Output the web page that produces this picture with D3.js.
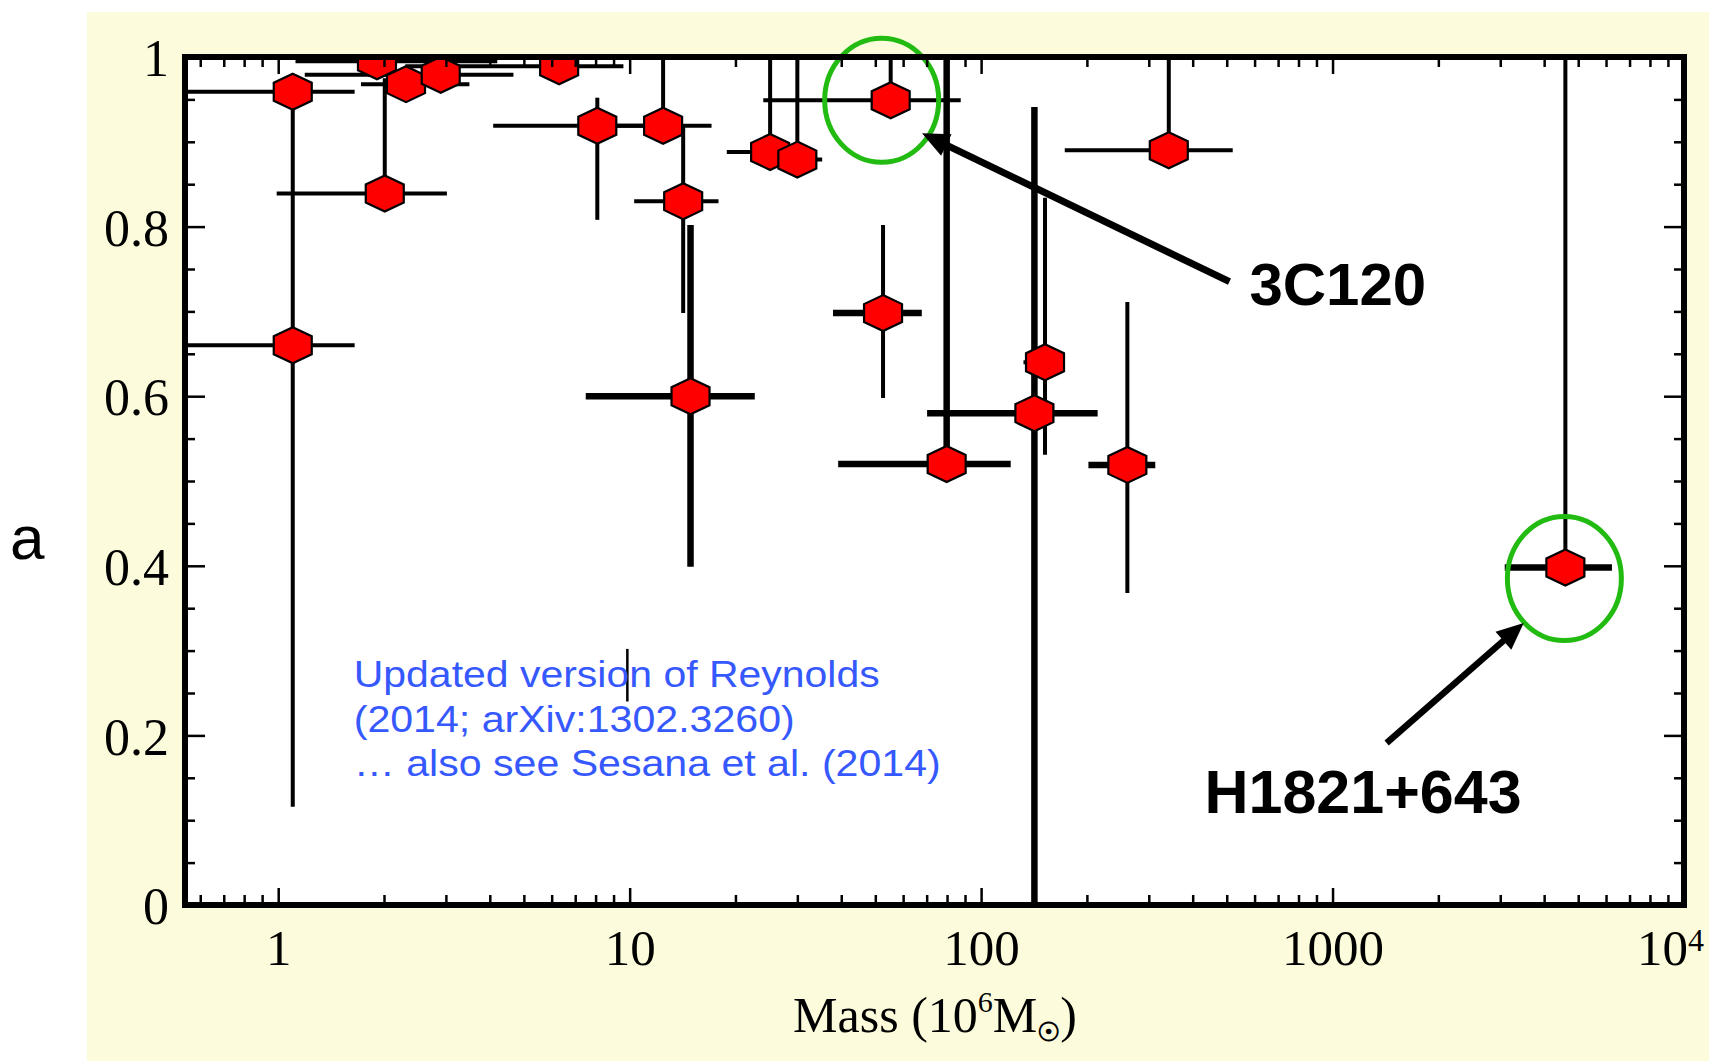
<!DOCTYPE html>
<html>
<head>
<meta charset="UTF-8">
<title></title>
<style>
    body { margin: 0; background: #fff; }
    svg { display: block; }
</style>
<script src="https://cdn.jsdelivr.net/npm/d3@7"></script>
</head>
<body>
<svg id="chart" width="1709" height="1061"></svg>
<script>
    // black hole mass (10^6 Msun) and value for each source, with error ranges
    var mass   = [1.10, 1.10, 1.91, 2.31, 2.90, 6.30, 2.01, 8.09, 12.45, 14.2, 14.9, 25.1, 30.0, 55.3, 52.6, 79.8, 141.8, 152, 260.7, 342, 4597];
    var frac   = [0.959, 0.660, 0.995, 0.968, 0.979, 0.989, 0.839, 0.919, 0.919, 0.830, 0.600, 0.888, 0.879, 0.949, 0.698, 0.520, 0.580, 0.640, 0.519, 0.890, 0.398];
    var massLo = [0.40, 0.40, 1.12, 1.72, 1.19, 2.30, 0.99, 4.09, 8.0, 10.3, 7.5, 18.9, 27.0, 24.0, 37.9, 39.2, 70.2, 132, 202, 173, 3090];
    var massHi = [1.65, 1.65, 4.20, 3.50, 4.67, 9.60, 3.02, 12.0, 17.1, 17.9, 22.7, 30.0, 35.3, 87.5, 67.8, 121.4, 214.6, 160, 313, 520, 6237];
    var fracLo = [0.959, 0.116, 0.995, 0.968, 0.979, 0.989, 0.839, 0.808, 0.919, 0.698, 0.399, 0.888, 0.879, 0.949, 0.598, 0.520, 0.0, 0.531, 0.368, 0.890, 0.398];
    var fracHi = [0.959, 0.959, 1.0, 0.968, 1.0, 1.0, 0.975, 0.952, 1.0, 0.919, 0.802, 1.0, 1.0, 1.0, 0.802, 1.0, 0.941, 0.834, 0.711, 1.0, 1.0];

    // a lone error bar with no marker
    var strayMass = 9.85;
    var strayRange = [0.240, 0.302];

    var massDomain = [0.543, 10000];
    var massTicks = [1, 10, 100, 1000, 10000];
    var massTickLabels = ["1", "10", "100", "1000", "10"];
    var fracTicks = [0, 0.2, 0.4, 0.6, 0.8, 1];
    var fracTickLabels = ["0", "0.2", "0.4", "0.6", "0.8", "1"];

    // highlighted sources, label and arrow positions in data units
    var calloutIndex = [13, 20];
    var calloutNames = ["3C120", "H1821+643"];
    var calloutTextAt = [[580, 0.7075], [432, 0.1085]];
    var arrowTail = [[509, 0.735], [1425, 0.191]];
    var arrowTip = [[67.9, 0.910], [3499, 0.3325]];

    var noteLines = ["Updated version of Reynolds", "(2014; arXiv:1302.3260)", "\u2026 also see Sesana et al. (2014)"];
    var noteAt = [1.64, 0.257];

    // ---- styles
    var W = 1709, H = 1061;
    var plot = {left: 185, right: 1684, top: 57, bottom: 905};
    var serif = "'Liberation Serif', 'Times New Roman', serif";
    var sans = "'Liberation Sans', Arial, sans-serif";
    var thinBar = 4, thickBar = 6.5;
    var thickH = [10, 14, 15, 16, 18, 20];
    var thickV = [10, 15, 16];
    var hexPath = "M0,-18L19,-9L19,9L0,18L-19,9L-19,-9Z";
    var ellipseShift = [[-9, 0], [-1, 11]];
    var noteWidths = [526, 441, 587];

    var svg = d3.select("#chart");

    svg.append("defs").append("clipPath").attr("id", "plotClip")
        .append("rect")
        .attr("x", plot.left).attr("y", plot.top)
        .attr("width", plot.right - plot.left).attr("height", plot.bottom - plot.top);

    svg.append("rect")
        .attr("x", 87).attr("y", 12)
        .attr("width", W - 87).attr("height", H - 12)
        .attr("fill", "#fcfcdc");

    svg.append("rect")
        .attr("x", plot.left).attr("y", plot.top)
        .attr("width", plot.right - plot.left).attr("height", plot.bottom - plot.top)
        .attr("fill", "#fff");

    var x = d3.scaleLog().domain(massDomain).range([plot.left, plot.right]);
    var y = d3.scaleLinear().domain([0, 1]).range([plot.bottom, plot.top]);

    var minorMass = [];
    [0.1, 1, 10, 100, 1000].forEach(function (dec) {
        for (var k = 2; k <= 9; k++) {
            var v = k * dec;
            if (v >= massDomain[0] && v < massDomain[1]) minorMass.push(v);
        }
    });
    var minorFrac = d3.range(0, 21).map(function (k) { return k * 0.05; })
        .filter(function (v) { return Math.abs(v * 5 - Math.round(v * 5)) > 1e-6; });

    function drawAxis(axis, transform) {
        var g = svg.append("g").attr("transform", transform).call(axis);
        g.select(".domain").remove();
        g.selectAll(".tick line").attr("stroke", "#000").attr("stroke-width", 2.5);
        g.attr("font-family", serif).attr("font-size", 51);
        g.selectAll(".tick text").attr("fill", "#000");
        return g;
    }

    var byLabel = function (ticks, labels) {
        return function (d) { return labels[ticks.indexOf(d)]; };
    };

    // ---- error bars
    var idx = d3.range(mass.length);
    var bars = svg.append("g").attr("clip-path", "url(#plotClip)").attr("stroke", "#000");

    bars.selectAll("line.h")
        .data(idx.filter(function (i) { return massHi[i] > massLo[i]; }))
        .join("line").attr("class", "h")
        .attr("x1", function (i) { return x(massLo[i]); })
        .attr("x2", function (i) { return x(massHi[i]); })
        .attr("y1", function (i) { return y(frac[i]); })
        .attr("y2", function (i) { return y(frac[i]); })
        .attr("stroke-width", function (i) { return thickH.indexOf(i) >= 0 ? thickBar : thinBar; });

    bars.selectAll("line.v")
        .data(idx.filter(function (i) { return fracHi[i] > fracLo[i]; }))
        .join("line").attr("class", "v")
        .attr("x1", function (i) { return x(mass[i]); })
        .attr("x2", function (i) { return x(mass[i]); })
        .attr("y1", function (i) { return y(fracLo[i]); })
        .attr("y2", function (i) { return y(fracHi[i]); })
        .attr("stroke-width", function (i) { return thickV.indexOf(i) >= 0 ? thickBar : thinBar; });

    bars.append("line")
        .attr("x1", x(strayMass)).attr("x2", x(strayMass))
        .attr("y1", y(strayRange[0])).attr("y2", y(strayRange[1]))
        .attr("stroke-width", 2.5);

    // ---- markers
    svg.append("g").attr("clip-path", "url(#plotClip)")
        .selectAll("path")
        .data(idx)
        .join("path")
        .attr("d", hexPath)
        .attr("transform", function (i) { return "translate(" + x(mass[i]) + "," + y(frac[i]) + ")"; })
        .attr("fill", "#ff0000")
        .attr("stroke", "#000")
        .attr("stroke-width", 2.2);

    // ---- note
    var note = svg.append("text")
        .attr("font-family", sans).attr("font-size", 36).attr("fill", "#3558ff");
    noteLines.forEach(function (t, k) {
        note.append("tspan")
            .attr("x", x(noteAt[0]))
            .attr("y", y(noteAt[1]) + k * 44.5)
            .attr("textLength", noteWidths[k])
            .attr("lengthAdjust", "spacingAndGlyphs")
            .text(t);
    });

    // ---- callouts
    calloutIndex.forEach(function (i, k) {
        svg.append("ellipse")
            .attr("cx", x(mass[i]) + ellipseShift[k][0])
            .attr("cy", y(frac[i]) + ellipseShift[k][1])
            .attr("rx", 57).attr("ry", 62)
            .attr("fill", "none").attr("stroke", "#22bb11").attr("stroke-width", 5);

        var tx = x(arrowTail[k][0]), ty = y(arrowTail[k][1]);
        var hx = x(arrowTip[k][0]), hy = y(arrowTip[k][1]);
        var len = Math.hypot(hx - tx, hy - ty);
        var ux = (hx - tx) / len, uy = (hy - ty) / len;
        svg.append("line")
            .attr("x1", tx).attr("y1", ty)
            .attr("x2", hx - 18 * ux).attr("y2", hy - 18 * uy)
            .attr("stroke", "#000").attr("stroke-width", k === 0 ? 7 : 6.5);
        var bx = hx - 27 * ux, by = hy - 27 * uy;
        svg.append("path")
            .attr("d", "M" + hx + "," + hy +
                "L" + (bx - 12 * uy) + "," + (by + 12 * ux) +
                "L" + (bx + 12 * uy) + "," + (by - 12 * ux) + "Z")
            .attr("fill", "#000");

        svg.append("text")
            .attr("x", x(calloutTextAt[k][0]))
            .attr("y", y(calloutTextAt[k][1]))
            .attr("font-family", sans).attr("font-weight", "bold")
            .attr("font-size", k === 0 ? 60 : 61)
            .attr("fill", "#000")
            .text(calloutNames[k]);
    });

    // ---- axes (ticks point inwards on all four sides)
    var bottom = drawAxis(d3.axisBottom(x).tickValues(massTicks).tickSizeInner(-17).tickSizeOuter(0)
        .tickPadding(23.5).tickFormat(byLabel(massTicks, massTickLabels)), "translate(0," + plot.bottom + ")");
    bottom.selectAll(".tick text").filter(function (d) { return d === 10000; })
        .attr("dx", -14)
        .append("tspan").attr("dy", "-0.42em").attr("font-size", 32).text("4");
    drawAxis(d3.axisBottom(x).tickValues(minorMass).tickSizeInner(-10).tickSizeOuter(0).tickFormat(""),
        "translate(0," + plot.bottom + ")");
    drawAxis(d3.axisTop(x).tickValues(massTicks).tickSizeInner(-17).tickSizeOuter(0).tickFormat(""),
        "translate(0," + plot.top + ")");
    drawAxis(d3.axisTop(x).tickValues(minorMass).tickSizeInner(-10).tickSizeOuter(0).tickFormat(""),
        "translate(0," + plot.top + ")");

    var left = drawAxis(d3.axisLeft(y).tickValues(fracTicks).tickSizeInner(-20).tickSizeOuter(0)
        .tickPadding(16).tickFormat(byLabel(fracTicks, fracTickLabels)), "translate(" + plot.left + ",0)");
    left.selectAll(".tick text").attr("dy", "0.36em").attr("font-size", 52);
    drawAxis(d3.axisLeft(y).tickValues(minorFrac).tickSizeInner(-10).tickSizeOuter(0).tickFormat(""),
        "translate(" + plot.left + ",0)");
    drawAxis(d3.axisRight(y).tickValues(fracTicks).tickSizeInner(-20).tickSizeOuter(0).tickFormat(""),
        "translate(" + plot.right + ",0)");
    drawAxis(d3.axisRight(y).tickValues(minorFrac).tickSizeInner(-10).tickSizeOuter(0).tickFormat(""),
        "translate(" + plot.right + ",0)");

    // frame
    svg.append("rect")
        .attr("x", plot.left).attr("y", plot.top)
        .attr("width", plot.right - plot.left).attr("height", plot.bottom - plot.top)
        .attr("fill", "none").attr("stroke", "#000").attr("stroke-width", 6);

    // x axis title
    var title = svg.append("text")
        .attr("x", 935).attr("y", 1032)
        .attr("text-anchor", "middle")
        .attr("font-family", serif).attr("font-size", 50).attr("fill", "#000");
    title.append("tspan").text("Mass (10");
    title.append("tspan").attr("dy", -20).attr("font-size", 30).text("6");
    title.append("tspan").attr("dy", 20).text("M");
    title.append("tspan").attr("dy", 9).attr("font-size", 26).attr("font-weight", "bold").text("\u2609");
    title.append("tspan").attr("dy", -9).text(")");

    // panel letter
    svg.append("text")
        .attr("x", 10).attr("y", 559)
        .attr("font-family", sans).attr("font-size", 62).attr("fill", "#000")
        .text("a");
</script>
</body>
</html>
